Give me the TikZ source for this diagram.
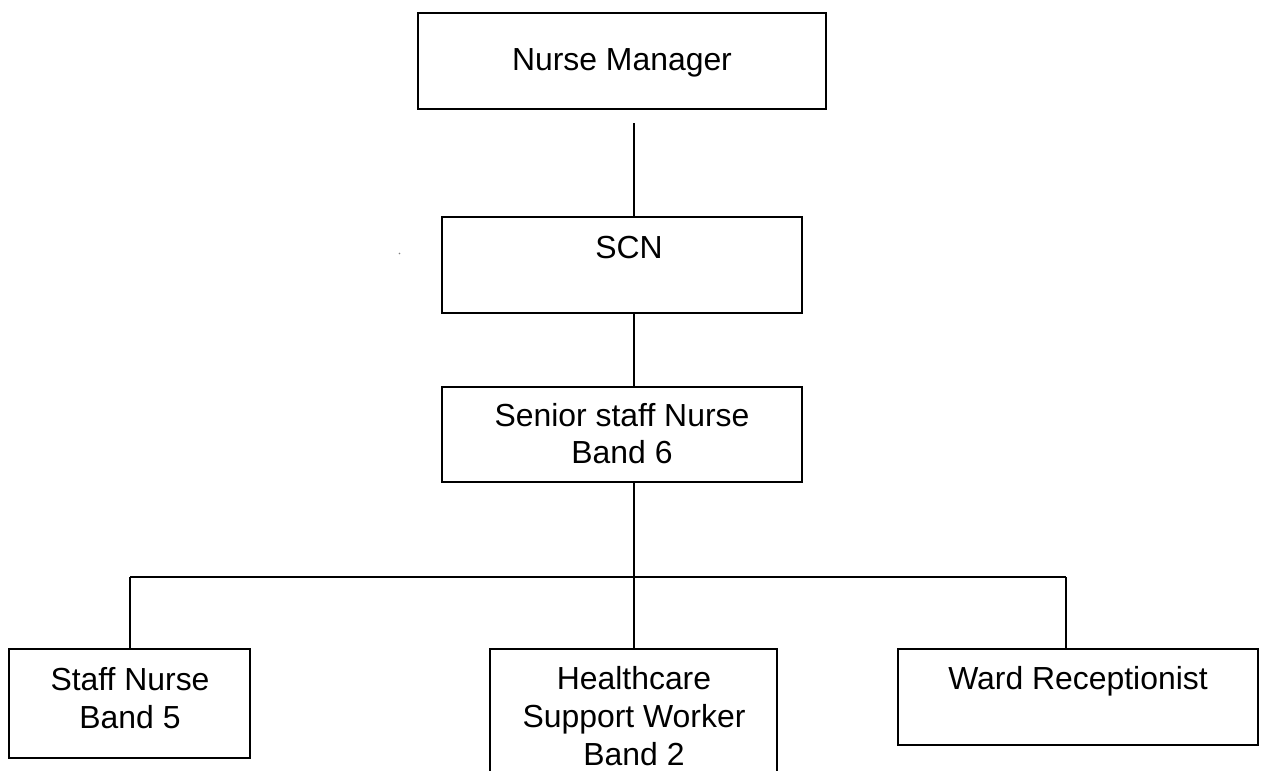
\documentclass[tikz,border=0pt]{standalone}
\usepackage{fontspec}
\setmainfont{Liberation Sans}
\begin{document}
\begin{tikzpicture}[x=1pt,y=-1pt,
  box/.style={draw=black,line width=1.8pt,rectangle,inner sep=0pt,outer sep=0pt},
  txt/.style={anchor=base,inner sep=0pt,font=\fontsize{31.9pt}{38pt}\selectfont},
  conn/.style={draw=black,line width=1.8pt}]
\useasboundingbox (0,0) rectangle (1262,771);
\clip (0,0) rectangle (1262,771);
\fill[white] (0,0) rectangle (1262,771);
% boxes
\node[box,minimum width=408.3pt,minimum height=96pt] (nm) at (621.85,61) {};
\node[box,minimum width=360.3pt,minimum height=96pt] (scn) at (621.85,265) {};
\node[box,minimum width=360.3pt,minimum height=95.3pt] (sen) at (621.85,434.35) {};
\node[box,minimum width=240.7pt,minimum height=108.7pt] (staff) at (129.65,703.35) {};
\node[box,minimum width=287pt,minimum height=142pt] (hc) at (633.5,720) {};
\node[box,minimum width=360pt,minimum height=96pt] (ward) at (1077.7,697) {};
% texts
\node[txt] (t1) at (622,70) {Nurse Manager};
\node[txt] (t2) at (629,258) {SCN};
\node[txt] (t3a) at (622,426.7) {Senior staff Nurse};
\node[txt] (t3b) at (622,463.5) {Band 6};
\node[txt] (t4a) at (130,690) {Staff Nurse};
\node[txt] (t4b) at (130,728) {Band 5};
\node[txt] (t5a) at (634,689) {Healthcare};
\node[txt] (t5b) at (634,727.7) {Support Worker};
\node[txt] (t5c) at (634,765.5) {Band 2};
\node[txt] (t6) at (1078,689) {Ward Receptionist};
% connectors
\coordinate (j0) at (633.7,123);
\coordinate (bus) at (633.7,577);
\coordinate (bl) at (130,577);
\coordinate (br) at (1066,577);
\draw[conn] (j0) -- (j0 |- scn.north);
\draw[conn] (scn.south -| j0) -- (sen.north -| j0);
\draw[conn] (sen.south -| bus) -- (bus);
\draw[conn] (bl) -- (br);
\draw[conn] (bl) -- (bl |- staff.north);
\draw[conn] (bus) -- (bus |- hc.north);
\draw[conn] (br) -- (br |- ward.north);
% stray speck
\fill[gray] (399.5,253.5) circle (0.8);
\end{tikzpicture}
\end{document}
